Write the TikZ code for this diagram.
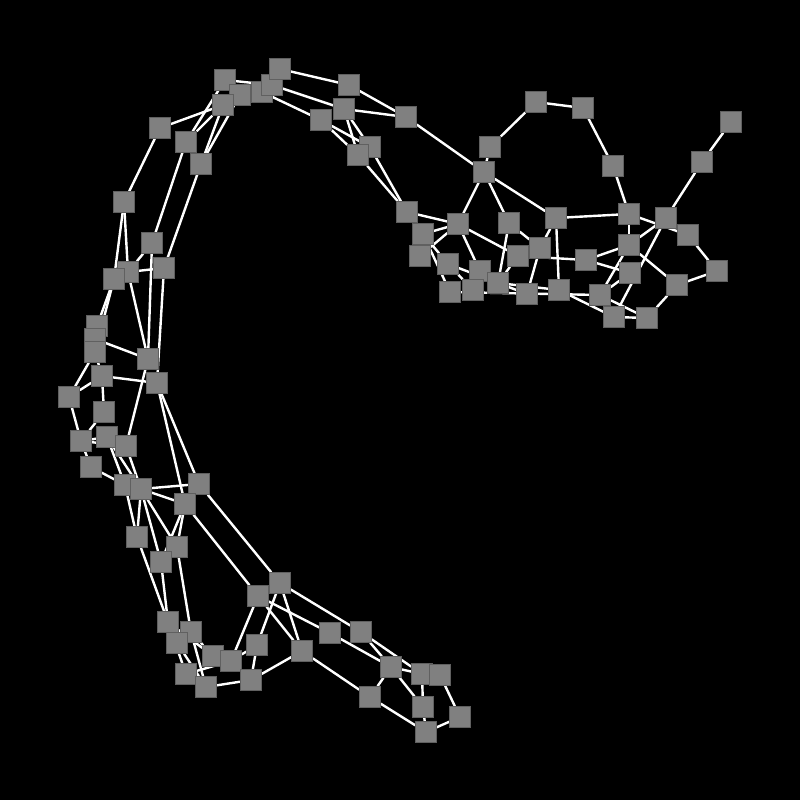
\documentclass[tikz,border=0pt]{standalone}
\pgfdeclarelayer{bg}
\pgfsetlayers{bg,main}
\definecolor{nodefill}{RGB}{128,128,128}
\definecolor{nodeline}{RGB}{96,96,96}
\begin{document}
\begin{tikzpicture}[x=1pt,y=-1pt,
  v/.style={rectangle,fill=nodefill,draw=nodeline,line width=0.5pt,minimum size=21pt,inner sep=0pt},
  e/.style={draw=white,line width=2.4pt}]
\begin{pgfonlayer}{bg}
\fill[black] (0,0) rectangle (800,800);
\end{pgfonlayer}
\useasboundingbox (0,0) rectangle (800,800);
% top
\node[v] (t1) at (225,80) {};
\node[v] (t2) at (240,95) {};
\node[v] (t3) at (223,105) {};
\node[v] (t4) at (262,92) {};
\node[v] (t5) at (272,85) {};
\node[v] (t6) at (280,69) {};
\node[v] (t7) at (349,85) {};
\node[v] (t8) at (344,109) {};
\node[v] (t9) at (321,120) {};
\node[v] (t10) at (406,117) {};
\node[v] (t11) at (370,147) {};
\node[v] (t12) at (358,155) {};
% left
\node[v] (l1) at (160,128) {};
\node[v] (l2) at (186,142) {};
\node[v] (l3) at (201,164) {};
\node[v] (l4) at (124,202) {};
\node[v] (l5) at (152,243) {};
\node[v] (l6) at (164,268) {};
\node[v] (l7) at (128,272) {};
\node[v] (l8) at (114,279) {};
\node[v] (l9) at (97,326) {};
\node[v] (l10) at (95,339) {};
\node[v] (l11) at (95,352) {};
\node[v] (l12) at (148,359) {};
\node[v] (l13) at (102,376) {};
\node[v] (l14) at (157,383) {};
\node[v] (l15) at (69,397) {};
\node[v] (l16) at (104,412) {};
\node[v] (l17) at (81,441) {};
\node[v] (l18) at (107,437) {};
\node[v] (l19) at (126,446) {};
\node[v] (l20) at (91,467) {};
\node[v] (l21) at (125,485) {};
\node[v] (l22) at (141,489) {};
\node[v] (l23) at (199,484) {};
\node[v] (l24) at (185,504) {};
\node[v] (l25) at (137,537) {};
\node[v] (l26) at (177,547) {};
\node[v] (l27) at (161,562) {};
% bottom
\node[v] (b1) at (280,583) {};
\node[v] (b2) at (258,596) {};
\node[v] (b3) at (168,622) {};
\node[v] (b4) at (191,632) {};
\node[v] (b5) at (177,643) {};
\node[v] (b6) at (257,645) {};
\node[v] (b7) at (330,633) {};
\node[v] (b8) at (361,632) {};
\node[v] (b9) at (302,651) {};
\node[v] (b10) at (213,656) {};
\node[v] (b11) at (231,661) {};
\node[v] (b12) at (391,667) {};
\node[v] (b13) at (186,674) {};
\node[v] (b14) at (206,687) {};
\node[v] (b15) at (251,680) {};
\node[v] (b16) at (422,674) {};
\node[v] (b17) at (440,675) {};
\node[v] (b18) at (370,697) {};
\node[v] (b19) at (423,707) {};
\node[v] (b20) at (460,717) {};
\node[v] (b21) at (426,732) {};
% right
\node[v] (r1) at (536,102) {};
\node[v] (r2) at (583,108) {};
\node[v] (r3) at (731,122) {};
\node[v] (r4) at (490,147) {};
\node[v] (r5) at (702,162) {};
\node[v] (r6) at (613,166) {};
\node[v] (r7) at (484,172) {};
\node[v] (r8) at (407,212) {};
\node[v] (r9) at (458,224) {};
\node[v] (r10) at (423,234) {};
\node[v] (r11) at (509,223) {};
\node[v] (r12) at (556,218) {};
\node[v] (r13) at (629,214) {};
\node[v] (r14) at (666,218) {};
\node[v] (r15) at (688,235) {};
\node[v] (r16) at (540,248) {};
\node[v] (r17) at (518,256) {};
\node[v] (r18) at (629,245) {};
\node[v] (r19) at (586,260) {};
\node[v] (r20) at (420,256) {};
\node[v] (r21) at (448,264) {};
\node[v] (r22) at (480,271) {};
\node[v] (r23) at (630,273) {};
\node[v] (r24) at (717,271) {};
\node[v] (r25) at (473,290) {};
\node[v] (r26) at (498,283) {};
\node[v] (r27) at (450,292) {};
\node[v] (r28) at (527,294) {};
\node[v] (r29) at (559,290) {};
\node[v] (r30) at (600,295) {};
\node[v] (r31) at (677,285) {};
\node[v] (r32) at (614,317) {};
\node[v] (r33) at (647,318) {};
\begin{pgfonlayer}{bg}
\foreach \a/\b in {t1/t5,t6/t7,t5/t8,t4/t9,t9/t11,t9/t12,t8/t11,t8/t12,t7/t10,t8/t10,t11/r8,t12/r8,t10/r7,
  l1/t3,l1/l4,l2/t1,l2/t3,l3/t3,l3/t2,l2/l5,l3/l6,l4/l8,l4/l7,l5/l7,l7/l6,l5/l12,l6/l14,l7/l12,l8/l9,l8/l11,
  l10/l12,l11/l15,l11/l13,l13/l15,l13/l14,l13/l16,l15/l17,l16/l17,l17/l18,l17/l19,l17/l20,l20/l21,l12/l19,
  l14/l23,l14/l24,l18/l21,l18/l22,l19/l22,l22/l23,l22/l24,l21/l25,l22/l25,l22/l27,l22/l26,l25/b3,l27/b3,
  l26/b4,l24/l26,l24/l27,l24/b2,l23/b1,
  b2/b11,b1/b6,b1/b9,b2/b9,b1/b8,b2/b7,b7/b12,b8/b12,b8/b16,b12/b16,b12/b18,b12/b19,b9/b18,b15/b9,b18/b21,
  b16/b19,b19/b21,b21/b20,b17/b20,b14/b15,b6/b15,b11/b6,b13/b11,b4/b10,b3/b13,b5/b14,b4/b14,b3/b10,
  r1/r4,r1/r2,r2/r6,r4/r7,r7/r9,r7/r11,r7/r12,r8/r9,r10/r9,r20/r9,r9/r22,r9/r17,r11/r26,r11/r16,r12/r16,
  r12/r29,r12/r13,r16/r28,r17/r26,r17/r19,r10/r21,r10/r27,r21/r28,r26/r29,r27/r30,r29/r32,r6/r13,r13/r18,
  r13/r15,r14/r5,r5/r3,r14/r18,r14/r32,r18/r19,r18/r30,r18/r31,r19/r23,r23/r30,r15/r24,r24/r31,r31/r33,
  r30/r33,r32/r33,r21/r25}
  \draw[e] (\a) -- (\b);
\end{pgfonlayer}
\end{tikzpicture}
\end{document}
